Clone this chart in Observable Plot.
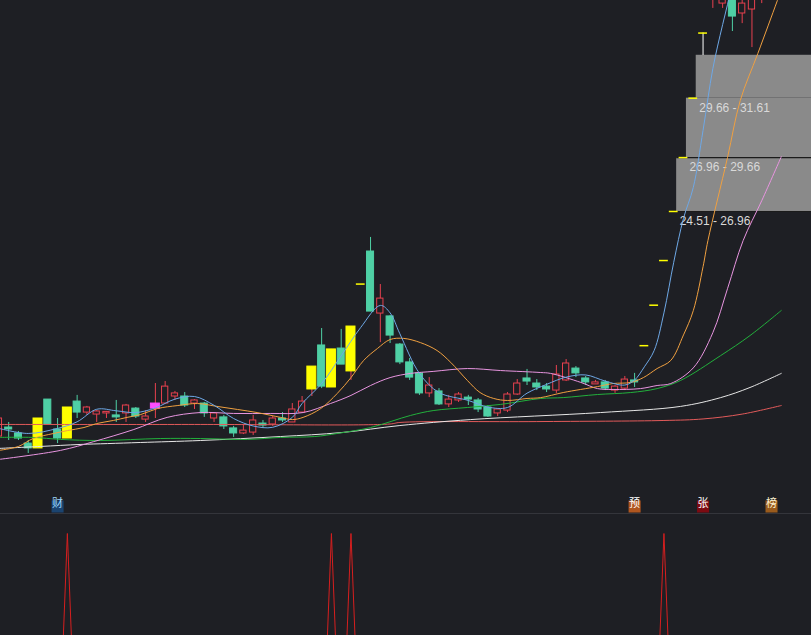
<!DOCTYPE html>
<html><head><meta charset="utf-8">
<script src="https://cdn.jsdelivr.net/npm/d3@7"></script>
<script src="https://cdn.jsdelivr.net/npm/@observablehq/plot@0.6"></script>
<style>
html,body{margin:0;padding:0;background:#1e1f24;overflow:hidden}
#chart{position:relative;width:811px;height:635px;overflow:hidden;background:#1e1f24}
#main,#sub{display:block}
#sub{border-top:1px solid #34353b;height:121px;overflow:hidden}
</style></head><body><div id="chart"><div id="main"></div><div id="sub"></div></div>
<script>
// ---- candle data (price, one entry per trading day) ----
const opens  = [14.28,14.69,14.42,13.96,13.74,15.96,14.60,14.19,15.87,15.37,15.28,15.33,15.24,15.33,15.55,15.05,15.55,15.78,16.10,16.10,15.78,15.78,15.10,15.15,14.65,14.42,14.46,14.87,14.83,15.10,14.92,15.37,16.42,18.42,16.51,18.28,17.24,21.21,22.69,19.87,19.74,18.46,17.65,17.15,16.24,16.33,15.74,15.92,16.05,15.92,15.60,15.33,15.46,16.19,16.92,16.69,16.55,16.37,16.83,17.37,16.92,16.65,16.74,16.37,16.46,16.83,18.41,20.25,22.28,24.51,26.96,29.66,32.62,34.60,33.96,35.50,33.51,33.69,35.00,36.50,38.00];
const highs  = [15.15,14.92,14.51,14.10,15.10,15.96,15.10,15.60,16.15,15.65,15.46,15.42,15.92,15.74,15.60,15.46,16.69,16.78,16.33,16.28,15.96,15.83,15.37,15.24,14.74,14.78,15.24,15.01,15.19,15.37,15.78,16.10,17.46,19.19,18.24,19.15,19.28,21.21,23.33,21.19,19.78,18.51,17.83,17.19,16.96,16.46,16.15,16.28,16.15,16.01,15.69,15.55,16.28,16.87,17.33,16.87,16.69,17.51,17.78,17.46,17.01,16.83,16.83,16.60,17.01,17.15,18.41,20.25,22.28,24.51,26.96,29.66,32.62,36.00,36.20,36.00,34.60,35.80,37.00,38.50,40.00];
const lows   = [14.24,14.10,14.10,13.51,13.74,14.83,13.96,14.19,15.10,15.24,14.92,15.10,14.92,14.92,15.10,14.92,15.10,15.74,15.92,15.60,15.51,15.15,14.92,14.60,14.24,14.37,14.33,14.65,14.74,14.92,14.92,15.33,16.10,16.46,16.51,17.55,16.83,21.21,19.96,18.55,18.51,17.55,16.83,16.15,16.05,15.69,15.60,15.83,15.69,15.37,15.15,15.19,15.37,16.15,16.60,16.37,16.28,16.24,16.78,16.96,16.60,16.65,16.37,16.24,16.37,16.51,18.41,20.25,22.28,24.51,26.96,29.66,31.60,33.74,33.74,32.69,33.05,31.96,33.96,35.50,37.00];
const closes = [15.10,14.60,14.19,13.74,15.10,14.83,14.19,15.60,15.37,15.60,15.42,15.40,15.15,15.69,15.19,15.19,15.78,16.55,16.24,15.69,15.92,15.33,15.33,14.74,14.42,14.55,15.01,14.78,15.10,15.01,15.51,15.87,17.46,16.55,18.24,17.55,19.28,21.21,19.96,20.55,18.87,17.65,16.96,16.24,16.60,15.74,15.96,16.19,15.96,15.51,15.19,15.51,16.19,16.69,16.78,16.51,16.42,17.10,17.60,17.15,16.74,16.74,16.46,16.55,16.87,16.74,18.41,20.25,22.28,24.51,26.96,29.66,32.62,35.60,35.30,33.37,33.96,35.20,36.50,38.00,39.50];
// up = rising (hollow red), down = falling (filled), limit = limit-up day, flat = one-price limit-up, T = T-shaped limit-up, pink = highlighted day
const kinds  = ["up","down","down","down","limit","down","down","limit","down","up","up","up","down","up","down","up","pink","up","up","down","up","down","up","down","down","up","up","down","up","down","up","up","limit","down","limit","down","limit","flat","down","up","down","down","down","down","up","down","up","up","down","down","down","up","up","up","down","down","down","up","up","down","down","up","down","up","up","down","flat","flat","flat","flat","flat","flat","T","up","up","down","up","up","up","up","up"];

// ---- moving average lines (day index, price) ----
const ma5Day  = [0,3,6,8,10,12,14,16,18,20,22,24,26,28,30,31,33,35,37,39,40,41,43,45,48,50,52,54,56,58,60,62,64,65,66,67,68,69,70,71,72,73,74,75,76];
const ma5Val  = [14.65,14.42,14.65,14.95,15.52,15.45,15.37,15.58,15.98,16.10,15.70,15.10,14.76,14.70,15.15,15.78,16.69,17.95,19.24,20.24,19.9,18.95,17.15,16.28,15.92,15.62,15.60,16.25,16.65,16.98,17.08,16.80,16.62,16.85,17.45,18.19,19.90,22.20,24.20,25.60,28.20,31.00,33.00,34.80,36.50];
const ma10Day = [0,2,3.5,5.6,7,8.7,10,11.7,13.1,14.5,16.2,18.3,20.3,22.3,24.4,26.4,28.8,30,31.1,32.9,34.6,36,37.3,38.7,40,41.4,43.1,44.8,46.2,47.9,49.2,50.6,52,54,55.4,57.7,61.2,62.8,64.6,65.9,67.3,68.7,70,71,72,72.5,74.5,75.8,77.6,79.6,80.5];
const ma10Val = [13.65,13.83,14.19,14.42,14.55,14.69,14.87,15.01,15.15,15.28,15.55,15.69,15.78,15.65,15.51,15.37,15.15,15.05,15.15,15.55,16.24,16.96,17.74,18.28,18.69,18.74,18.55,18.19,17.65,16.83,16.28,16.01,15.92,16.01,16.05,16.28,16.55,16.69,16.74,16.96,17.37,17.74,18.90,20.00,22.00,23.19,26.96,29.55,31.69,34.10,35.20];
const ma20Day = [0,6.3,9.7,13.8,17.2,20.6,24,27.8,31.1,33.9,36,38,40,42.1,44.4,47.9,51.3,55.4,56.4,59.5,61.2,62.8,65.6,67.3,68.7,71,73,74.5,76.1,78,80];
const ma20Val = [13.24,13.65,14.05,14.60,15.15,15.37,15.33,15.33,15.37,15.78,16.15,16.60,16.96,17.15,17.24,17.37,17.28,17.19,17.15,16.74,16.46,16.42,16.46,16.60,16.69,17.40,19.00,21.00,23.19,25.00,27.00];
const ma30Day = [0,3.5,6.3,10.4,16.5,20.6,25.4,28.8,32.3,34.6,38,42.1,44.4,47.9,51.3,55.4,57.7,61.2,64.6,67.3,69.7,73.8,76.8,80];
const ma30Val = [14.24,14.24,14.15,14.10,14.19,14.19,14.15,14.24,14.28,14.42,14.69,15.24,15.46,15.60,15.74,16.01,16.05,16.19,16.28,16.46,16.83,17.96,18.87,20.01];
const ma60Day = [0,4.25,8.3,11.1,14.5,20.6,28.8,35,41,48.2,61.5,69.7,73.8,76.8,80];
const ma60Val = [13.74,13.83,13.92,13.96,14.01,14.10,14.28,14.46,14.78,15.05,15.37,15.65,16.05,16.51,17.15];
const ma120Day = [0,20,40,41,55,68,72,76,80];
const ma120Val = [14.83,14.83,14.85,14.92,14.96,15.01,15.08,15.30,15.69];

// ---- limit-up price zones ----
const zoneStart = [69.3,70.3,71.3];
const zoneLow   = [24.51,26.96,29.66];
const zoneHigh  = [26.96,29.66,31.61];

// ---- event tags ----
const tagDay  = [6,65,72,79];
const tagText = ["财","预","张","榜"];
const tagType = ["finance","forecast","limit","list"];

// ---- lower indicator (signal per day) ----
const signal = [0,0,0,0,0,0,0,1,0,0,0,0,0,0,0,0,0,0,0,0,0,0,0,0,0,0,0,0,0,0,0,0,0,0,1,0,1,0,0,0,0,0,0,0,0,0,0,0,0,0,0,0,0,0,0,0,0,0,0,0,0,0,0,0,0,0,0,0,1,0,0,0,0,0,0,0,0,0,0,0,0];

// ---- styles ----
const BG = "#1e1f24", RED = "#e8414f", TEAL = "#4fd0a5", YEL = "#ffff00", PINK = "#ff4dff";
const fillOf   = {up: BG, down: TEAL, limit: YEL, pink: PINK};
const strokeOf = {up: RED, down: TEAL, limit: YEL, pink: PINK};
const wickOf   = {up: RED, down: TEAL, limit: RED, pink: RED, flat: YEL, T: "#ffffff"};
const halfOf   = {up: 0.32, down: 0.36, limit: 0.46, pink: 0.46};
const tagFill  = {finance: "#1b4470", forecast: "#b0561f", limit: "#7d0b12", list: "#9a5b1c"};
const tagInk   = {finance: "#9fd8ff", forecast: "#ffffff", limit: "#ffffff", list: "#fff2d0"};

const candles = opens.map((o, i) => ({i, o, h: highs[i], l: lows[i], c: closes[i], k: kinds[i]}));
const bodies = candles.filter(d => d.k !== "flat" && d.k !== "T");
const dashes = candles.filter(d => d.k === "flat" || d.k === "T");
const wicks = candles.filter(d => d.h > d.l);
const series = (days, vals) => days.map((d, j) => ({d, v: vals[j]}));
const zones = zoneStart.map((s, j) => ({s, lo: zoneLow[j], hi: zoneHigh[j]}));
const tags = tagDay.map((d, j) => ({d, t: tagText[j], type: tagType[j]}));

const W = 811, H1 = 513, H2 = 122;
const xScale = {domain: [0, 80], range: [-1.6, 780.8]};
const yTop = 34.10, pxPerUnit = 22;

const main = Plot.plot({
  width: W, height: H1, margin: 0,
  style: {background: BG, overflow: "hidden"},
  x: {...xScale, axis: null},
  y: {domain: [yTop - H1 / pxPerUnit, yTop], axis: null},
  marks: [
    Plot.rect(zones, {x1: "s", x2: 84, y1: "lo", y2: "hi", fill: "#8a8a8a", clip: true}),
    Plot.ruleY(zones.slice(0, 2), {y: "lo", x1: d => d.s - 1, x2: 84, stroke: "#1b1b1b", strokeWidth: 1.2, clip: true}),
    Plot.text(zones, {x: "s", y: "lo", text: d => `${d.lo.toFixed(2)} - ${d.hi.toFixed(2)}`, dx: 3, dy: 10, textAnchor: "start", fill: "#d9d9d9", fontSize: 12, fontFamily: "Liberation Sans, Arial, sans-serif"}),
    Plot.ruleX(wicks, {x: "i", y1: "l", y2: "h", stroke: d => wickOf[d.k], strokeWidth: 1, clip: true}),
    Plot.rect(bodies, {x1: d => d.i - halfOf[d.k], x2: d => d.i + halfOf[d.k], y1: "o", y2: "c", fill: d => fillOf[d.k], stroke: d => strokeOf[d.k], strokeWidth: 1, clip: true}),
    Plot.ruleY(dashes, {y: "c", x1: d => d.i - 0.45, x2: d => d.i + 0.45, stroke: YEL, strokeWidth: 1.5, clip: true}),
    Plot.line(series(ma120Day, ma120Val), {x: "d", y: "v", stroke: "#e25a5a", strokeWidth: 1, curve: "catmull-rom", clip: true}),
    Plot.line(series(ma60Day, ma60Val), {x: "d", y: "v", stroke: "#e6e6e6", strokeWidth: 1, curve: "catmull-rom", clip: true}),
    Plot.line(series(ma30Day, ma30Val), {x: "d", y: "v", stroke: "#22b03c", strokeWidth: 1, curve: "catmull-rom", clip: true}),
    Plot.line(series(ma20Day, ma20Val), {x: "d", y: "v", stroke: "#e895e0", strokeWidth: 1, curve: "catmull-rom", clip: true}),
    Plot.line(series(ma10Day, ma10Val), {x: "d", y: "v", stroke: "#f0a040", strokeWidth: 1, curve: "catmull-rom", clip: true}),
    Plot.line(series(ma5Day, ma5Val), {x: "d", y: "v", stroke: "#6ea8e6", strokeWidth: 1, curve: "catmull-rom", clip: true}),
    Plot.dot(tags, {x: "d", frameAnchor: "bottom", dy: -7, symbol: "square", r: 6.8, fill: d => tagFill[d.type]}),
    Plot.text(tags, {x: "d", frameAnchor: "bottom", dy: -7, text: "t", fill: d => tagInk[d.type], fontSize: 11, fontFamily: "Noto Sans CJK SC, sans-serif"})
  ]
});
document.getElementById("main").appendChild(main);

const sub = Plot.plot({
  width: W, height: H2 - 1, margin: 0,
  style: {background: BG, overflow: "hidden"},
  x: {...xScale, axis: null},
  y: {domain: [0, 1], range: [269, 19], axis: null},
  marks: [
    Plot.line(signal.map((v, i) => ({i, v})), {x: "i", y: "v", stroke: "#d61f1f", strokeWidth: 1, clip: true})
  ]
});
document.getElementById("sub").appendChild(sub);
</script>
</body></html>
